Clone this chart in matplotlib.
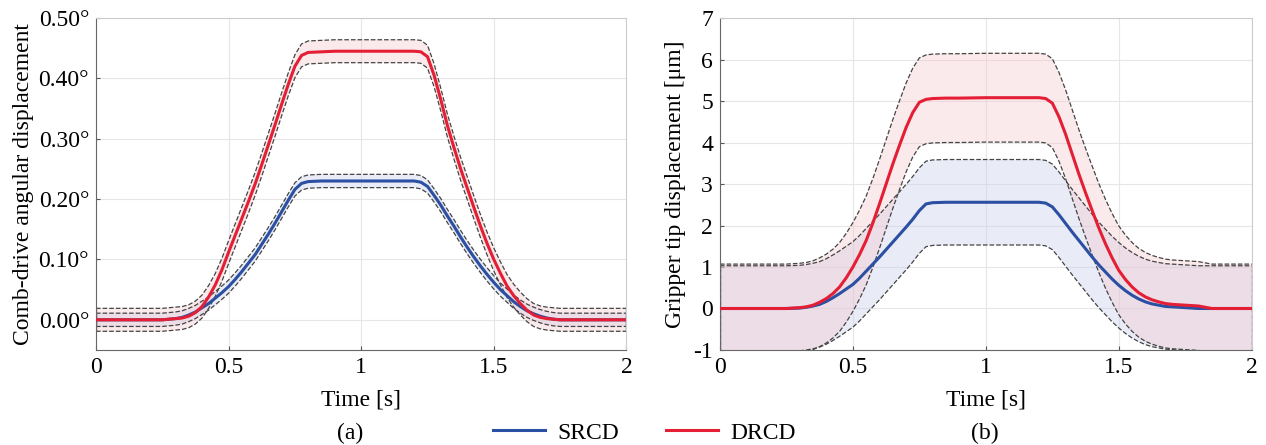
import numpy as np
import matplotlib
matplotlib.use("Agg")
import matplotlib.pyplot as plt

plt.rcParams['font.family'] = ['Liberation Serif', 'DejaVu Serif']
plt.rcParams['axes.unicode_minus'] = False

# time samples (s)
t = [0.0, 0.1, 0.2, 0.25,
     0.3, 0.325, 0.35, 0.375, 0.4, 0.425, 0.45, 0.475, 0.5, 0.525, 0.55, 0.575,
     0.6, 0.625, 0.65, 0.675, 0.7, 0.725, 0.75, 0.775, 0.8,
     0.85, 0.9, 1.0, 1.1, 1.15,
     1.2, 1.225, 1.25, 1.275, 1.3, 1.325, 1.35, 1.375, 1.4, 1.425, 1.45, 1.475,
     1.5, 1.525, 1.55, 1.575, 1.6, 1.625, 1.65, 1.675, 1.7, 1.725, 1.75,
     1.8, 1.85, 1.9, 2.0]

# (a) comb-drive angular displacement (deg)
srcd_ang = [0, 0, 0, 0,
            0.002, 0.004, 0.008, 0.013, 0.02, 0.027, 0.036, 0.045, 0.055, 0.067, 0.08,
            0.094, 0.108, 0.125, 0.142, 0.16, 0.179, 0.198, 0.216, 0.226, 0.229,
            0.23, 0.23, 0.23, 0.23, 0.23,
            0.23, 0.228, 0.221, 0.206, 0.19, 0.172, 0.155, 0.137, 0.12, 0.104, 0.089,
            0.075, 0.062, 0.05, 0.04, 0.03, 0.022, 0.015, 0.01, 0.006, 0.003, 0.001, 0.0,
            0, 0, 0, 0]
drcd_ang = [0, 0, 0, 0,
            0.002, 0.003, 0.006, 0.012, 0.022, 0.038, 0.058, 0.083, 0.112, 0.14, 0.168,
            0.196, 0.225, 0.257, 0.29, 0.323, 0.357, 0.39, 0.42, 0.438, 0.443,
            0.444, 0.445, 0.445, 0.445, 0.445,
            0.445, 0.444, 0.436, 0.405, 0.365, 0.322, 0.285, 0.25, 0.218, 0.186, 0.155,
            0.126, 0.1, 0.077, 0.056, 0.04, 0.027, 0.016, 0.008, 0.004, 0.002, 0.001, 0.0,
            0, 0, 0, 0]
srcd_ang_sd = 0.011
drcd_ang_sd = 0.019

# (b) gripper tip displacement (um)
srcd_tip = [0, 0, 0, 0,
            0.01, 0.03, 0.06, 0.1, 0.17, 0.26, 0.36, 0.47, 0.58, 0.73, 0.9, 1.07,
            1.24, 1.42, 1.6, 1.78, 1.96, 2.15, 2.36, 2.52, 2.55,
            2.56, 2.56, 2.56, 2.56, 2.56,
            2.56, 2.54, 2.45, 2.26, 2.05, 1.84, 1.64, 1.44, 1.24, 1.05, 0.88, 0.71,
            0.56, 0.43, 0.32, 0.23, 0.16, 0.11, 0.08, 0.05, 0.04, 0.03, 0.02,
            0, 0, 0, 0]
drcd_tip = [0, 0, 0, 0,
            0.02, 0.04, 0.08, 0.15, 0.24, 0.36, 0.52, 0.74, 1.0, 1.3, 1.64, 2.06,
            2.52, 3.0, 3.48, 3.93, 4.36, 4.72, 4.97, 5.04, 5.06,
            5.07, 5.07, 5.08, 5.08, 5.08,
            5.08, 5.06, 4.95, 4.62, 4.2, 3.72, 3.24, 2.79, 2.36, 1.94, 1.56, 1.22,
            0.92, 0.7, 0.52, 0.38, 0.28, 0.21, 0.16, 0.12, 0.1, 0.09, 0.08,
            0.06, 0.0, 0, 0]
srcd_tip_sd = 1.03
drcd_tip_sd = 1.07

ang_ticks = [0.0, 0.1, 0.2, 0.3, 0.4, 0.5]
ang_labels = ['0.00°', '0.10°', '0.20°', '0.30°', '0.40°', '0.50°']
x_ticks = [0, 0.5, 1, 1.5, 2]
x_labels = ['0', '0.5', '1', '1.5', '2']

blue = '#2b4fa2'
red = '#e41e34'

fig = plt.figure(figsize=(12.66, 4.45), dpi=100)
ax1 = fig.add_axes([0.0758, 0.2135, 0.419, 0.746])
ax2 = fig.add_axes([0.5687, 0.2135, 0.420, 0.746])

t = np.array(t)


def panel(ax, m1, s1, m2, s2):
    m1 = np.array(m1)
    m2 = np.array(m2)
    ax.fill_between(t, m1 - s1, m1 + s1, facecolor='#c9cee9', alpha=0.4,
                    edgecolor='none', zorder=1)
    ax.fill_between(t, m2 - s2, m2 + s2, facecolor='#f5c3ca', alpha=0.35,
                    edgecolor='none', zorder=1)
    for m, s in [(m1, s1), (m2, s2)]:
        ax.plot(t, m + s, '--', color='#444444', lw=0.9, zorder=2)
        ax.plot(t, m - s, '--', color='#444444', lw=0.9, zorder=2)
        ax.plot([t[0], t[0]], [m[0] - s, m[0] + s], '--', color='#444444', lw=0.9, zorder=2)
        ax.plot([t[-1], t[-1]], [m[-1] - s, m[-1] + s], '--', color='#444444', lw=0.9, zorder=2)
    ax.plot(t, m1, color=blue, lw=2.2, zorder=3)
    ax.plot(t, m2, color=red, lw=2.2, zorder=4)
    ax.set_xlim(0, 2)
    ax.set_xticks(x_ticks)
    ax.set_xticklabels(x_labels)
    ax.grid(True, color='#e6e6e6', lw=0.8)
    ax.set_axisbelow(True)
    ax.tick_params(direction='in', length=3, labelsize=17, color='#555555', pad=5)
    for side in ['top', 'right']:
        ax.spines[side].set_color('#cccccc')
    for side in ['left', 'bottom']:
        ax.spines[side].set_color('#666666')
    ax.set_xlabel('Time [s]', fontsize=17, labelpad=8)


panel(ax1, srcd_ang, srcd_ang_sd, drcd_ang, drcd_ang_sd)
ax1.set_ylim(-0.05, 0.5)
ax1.set_yticks(ang_ticks)
ax1.set_yticklabels(ang_labels)
ax1.set_ylabel('Comb-drive angular displacement', fontsize=17, labelpad=3)

panel(ax2, srcd_tip, srcd_tip_sd, drcd_tip, drcd_tip_sd)
ax2.set_ylim(-1, 7)
ax2.set_yticks(range(-1, 8))
ax2.set_ylabel('Gripper tip displacement [μm]', fontsize=17, labelpad=5)

fig.text(0.2765, 0.027, '(a)', ha='center', va='center', fontsize=17)
fig.text(0.778, 0.027, '(b)', ha='center', va='center', fontsize=17)

h1, = ax1.plot([], [], color=blue, lw=2.2, label='SRCD')
h2, = ax1.plot([], [], color=red, lw=2.2, label='DRCD')
fig.legend(handles=[h1, h2], loc='center', bbox_to_anchor=(0.509, 0.027), ncol=2,
           frameon=False, fontsize=17, handlelength=2.2, handletextpad=0.5,
           columnspacing=2.0)

fig.savefig('out.png', dpi=100)
